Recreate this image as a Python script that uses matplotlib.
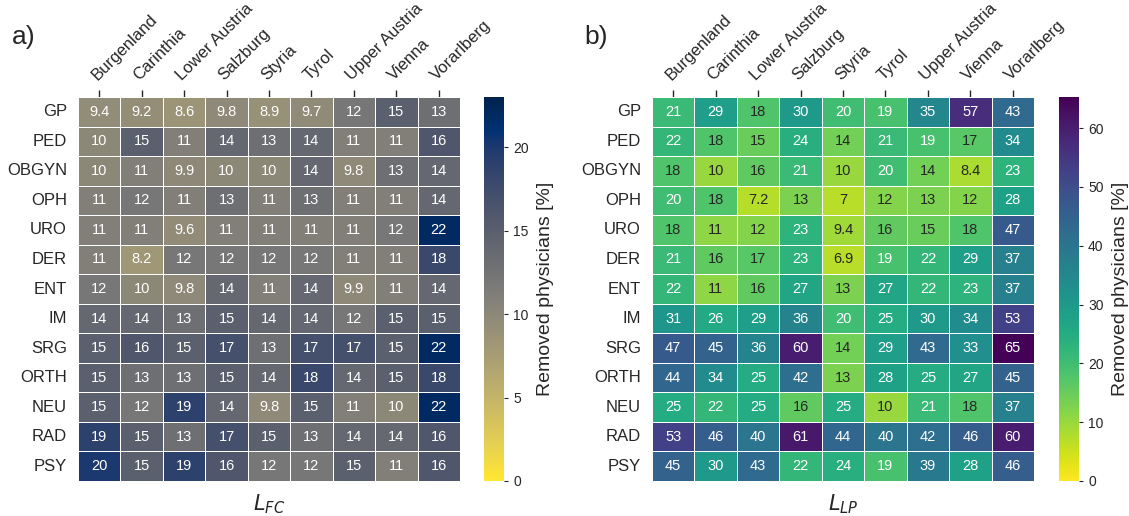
import numpy as np
import pandas as pd
import seaborn as sns
import matplotlib
matplotlib.use("Agg")
from matplotlib import pyplot as plt

states = ['Burgenland', 'Carinthia', 'Lower Austria', 'Salzburg', 'Styria',
          'Tyrol', 'Upper Austria', 'Vienna', 'Vorarlberg']
specialties = ['GP', 'PED', 'OBGYN', 'OPH', 'URO', 'DER', 'ENT', 'IM', 'SRG',
               'ORTH', 'NEU', 'RAD', 'PSY']

removed_fc = [
    [9.4, 9.2, 8.6, 9.8, 8.9, 9.7, 12, 15, 13],
    [10, 15, 11, 14, 13, 14, 11, 11, 16],
    [10, 11, 9.9, 10, 10, 14, 9.8, 13, 14],
    [11, 12, 11, 13, 11, 13, 11, 11, 14],
    [11, 11, 9.6, 11, 11, 11, 11, 12, 22],
    [11, 8.2, 12, 12, 12, 12, 11, 11, 18],
    [12, 10, 9.8, 14, 11, 14, 9.9, 11, 14],
    [14, 14, 13, 15, 14, 14, 12, 15, 15],
    [15, 16, 15, 17, 13, 17, 17, 15, 22],
    [15, 13, 13, 15, 14, 18, 14, 15, 18],
    [15, 12, 19, 14, 9.8, 15, 11, 10, 22],
    [19, 15, 13, 17, 15, 13, 14, 14, 16],
    [20, 15, 19, 16, 12, 12, 15, 11, 16],
]

removed_lp = [
    [21, 29, 18, 30, 20, 19, 35, 57, 43],
    [22, 18, 15, 24, 14, 21, 19, 17, 34],
    [18, 10, 16, 21, 10, 20, 14, 8.4, 23],
    [20, 18, 7.2, 13, 7, 12, 13, 12, 28],
    [18, 11, 12, 23, 9.4, 16, 15, 18, 47],
    [21, 16, 17, 23, 6.9, 19, 22, 29, 37],
    [22, 11, 16, 27, 13, 27, 22, 23, 37],
    [31, 26, 29, 36, 20, 25, 30, 34, 53],
    [47, 45, 36, 60, 14, 29, 43, 33, 65],
    [44, 34, 25, 42, 13, 28, 25, 27, 45],
    [25, 22, 25, 16, 25, 10, 21, 18, 37],
    [53, 46, 40, 61, 44, 40, 42, 46, 60],
    [45, 30, 43, 22, 24, 19, 39, 28, 46],
]

sns.set_theme(style='ticks')
plt.rcParams['font.family'] = ['Liberation Sans', 'DejaVu Sans']

fig = plt.figure(figsize=(11.29, 5.16), dpi=100)

W, H = 1129, 516
def box(x0, y0, x1, y1):
    return [x0 / W, 1 - y1 / H, (x1 - x0) / W, (y1 - y0) / H]

panels = [
    (removed_fc, 'cividis_r', 23.0, r'$L_{FC}$', 'a)', 78, 484, 12, 'white'),
    (removed_lp, 'viridis_r', 65.3, r'$L_{LP}$', 'b)', 652, 1059, 584, None),
]

for data, cmap, vmax, xlab, tag, hx, cx, tx, tcol in panels:
    df = pd.DataFrame(data, index=specialties, columns=states)
    ax = fig.add_axes(box(hx, 97, hx + 382, 481))
    cax = fig.add_axes(box(cx, 97, cx + 20, 481))
    kws = {'size': 10.5}
    if tcol:
        kws['color'] = tcol
    sns.heatmap(df, ax=ax, cbar_ax=cax, cmap=cmap, vmin=0, vmax=vmax,
                annot=True, fmt='.2g', annot_kws=kws, linewidths=0.7,
                linecolor='white')
    ax.xaxis.tick_top()
    ax.set_xticklabels(states, rotation=45, ha='left', va='bottom',
                       rotation_mode='anchor', fontsize=12)
    ax.set_yticklabels(specialties, rotation=0, fontsize=12)
    ax.tick_params(axis='x', length=5, width=1, pad=5, colors='#262626')
    ax.tick_params(axis='y', length=0, pad=8)
    ax.set_xlabel(xlab, fontsize=15, labelpad=8)
    ax.xaxis.set_label_position('bottom')
    ax.set_ylabel('')
    cax.tick_params(labelsize=10, length=3, width=0.8)
    cax.set_ylabel('Removed physicians [%]', fontsize=14, labelpad=6)
    fig.text(tx / W, 1 - 37 / H, tag, fontsize=19, va='center', ha='left')

fig.savefig('out.png', dpi=100)
